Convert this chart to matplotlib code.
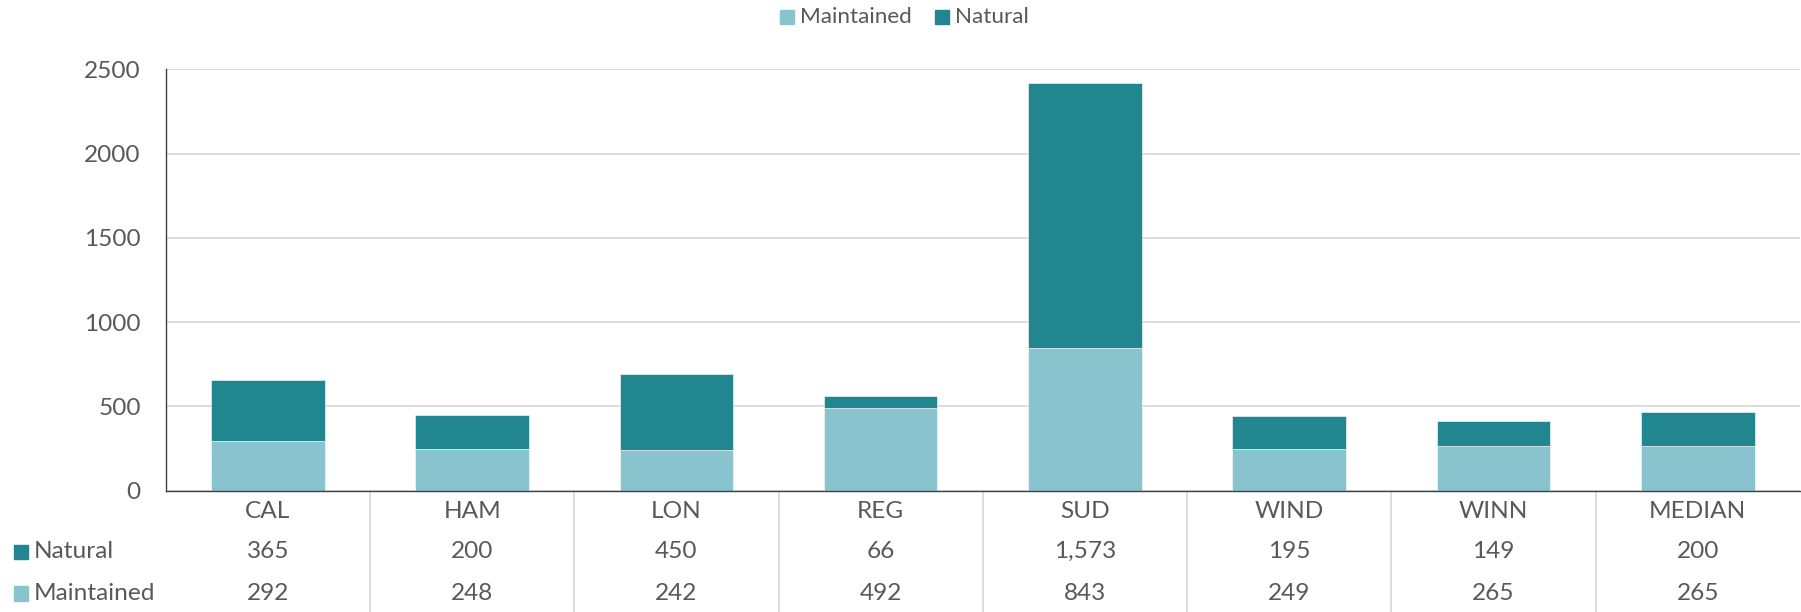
import matplotlib
matplotlib.use("Agg")
import matplotlib.pyplot as plt
from matplotlib.patches import Rectangle
from matplotlib.transforms import blended_transform_factory

# Data
categories = ["CAL", "HAM", "LON", "REG", "SUD", "WIND", "WINN", "MEDIAN"]
natural = [365, 200, 450, 66, 1573, 195, 149, 200]
maintained = [292, 248, 242, 492, 843, 249, 265, 265]
series_names = ["Maintained", "Natural"]
y_ticks = [0, 500, 1000, 1500, 2000, 2500]

C_MAINT = "#88C3CE"
C_NAT = "#218690"
C_TEXT = "#595959"
C_GRID = "#D9D9D9"
C_AXIS = "#404040"

W, H, DPI = 1801, 612, 100
plt.rcParams["font.family"] = ["Lato", "DejaVu Sans"]
fs = 17.6

fig = plt.figure(figsize=(W / DPI, H / DPI), dpi=DPI)

def fx(px):
    return px / W

def fy(py):
    return 1 - py / H

ax_left, ax_right = 165.7, 1800.0
ax_top, ax_bottom = 69.3, 490.5
ax = fig.add_axes([fx(ax_left), fy(ax_bottom), fx(ax_right - ax_left),
                   (ax_bottom - ax_top) / H])

x = list(range(len(categories)))
bar_w = 0.556
ax.bar(x, maintained, width=bar_w, color=C_MAINT, edgecolor="white",
       linewidth=0.4, zorder=3)
ax.bar(x, natural, width=bar_w, bottom=maintained, color=C_NAT,
       edgecolor="white", linewidth=0.4, zorder=3)

ax.set_xlim(-0.5, len(categories) - 0.5)
ax.set_ylim(0, 2500)
ax.set_yticks(y_ticks)
ax.set_yticklabels([str(v) for v in y_ticks])
ax.tick_params(axis="y", length=0, pad=18, labelsize=fs, labelcolor=C_TEXT)
ax.set_xticks([])
ax.grid(axis="y", color=C_GRID, linewidth=1.3, zorder=0)
for s in ["top", "right"]:
    ax.spines[s].set_visible(False)
for s in ["left", "bottom"]:
    ax.spines[s].set_color(C_AXIS)
    ax.spines[s].set_linewidth(1.0)
    ax.spines[s].set_zorder(4)

# Data table beneath the plot
axes_h = ax_bottom - ax_top
def ay(py):
    return (ax_bottom - py) / axes_h

tr = blended_transform_factory(ax.transData, ax.transAxes)
row_cat = ay(511.7)
row_nat = ay(551.7)
row_maint = ay(593.0)
for i, cat in enumerate(categories):
    ax.text(i, row_cat, cat, transform=tr, ha="center", va="center",
            fontsize=fs, color=C_TEXT, clip_on=False)
    ax.text(i, row_nat, f"{natural[i]:,}", transform=tr, ha="center",
            va="center", fontsize=fs, color=C_TEXT, clip_on=False)
    ax.text(i, row_maint, f"{maintained[i]:,}", transform=tr, ha="center",
            va="center", fontsize=fs, color=C_TEXT, clip_on=False)

for b in range(1, len(categories)):
    ax.plot([b - 0.5, b - 0.5], [0, ay(H)], transform=tr, color=C_GRID,
            linewidth=1.3, clip_on=False, zorder=2)

# Row headers with colour keys
for label, color, py in [("Natural", C_NAT, 551.7),
                         ("Maintained", C_MAINT, 593.0)]:
    fig.patches.append(Rectangle((fx(13.5), fy(py + 7.5)), fx(14.5), 14.5 / H,
                                 transform=fig.transFigure, color=color))
    fig.text(fx(34), fy(py), label, ha="left", va="center", fontsize=fs,
             color=C_TEXT)

# Legend across the top
leg_fs = 16.2
for label, color, sq_x, tx in [("Maintained", C_MAINT, 780, 800),
                               ("Natural", C_NAT, 935, 955)]:
    fig.patches.append(Rectangle((fx(sq_x), fy(24)), fx(14), 14 / H,
                                 transform=fig.transFigure, color=color))
    fig.text(fx(tx), fy(17), label, ha="left", va="center",
             fontsize=leg_fs, color=C_TEXT)

fig.savefig("out.png", dpi=DPI)
